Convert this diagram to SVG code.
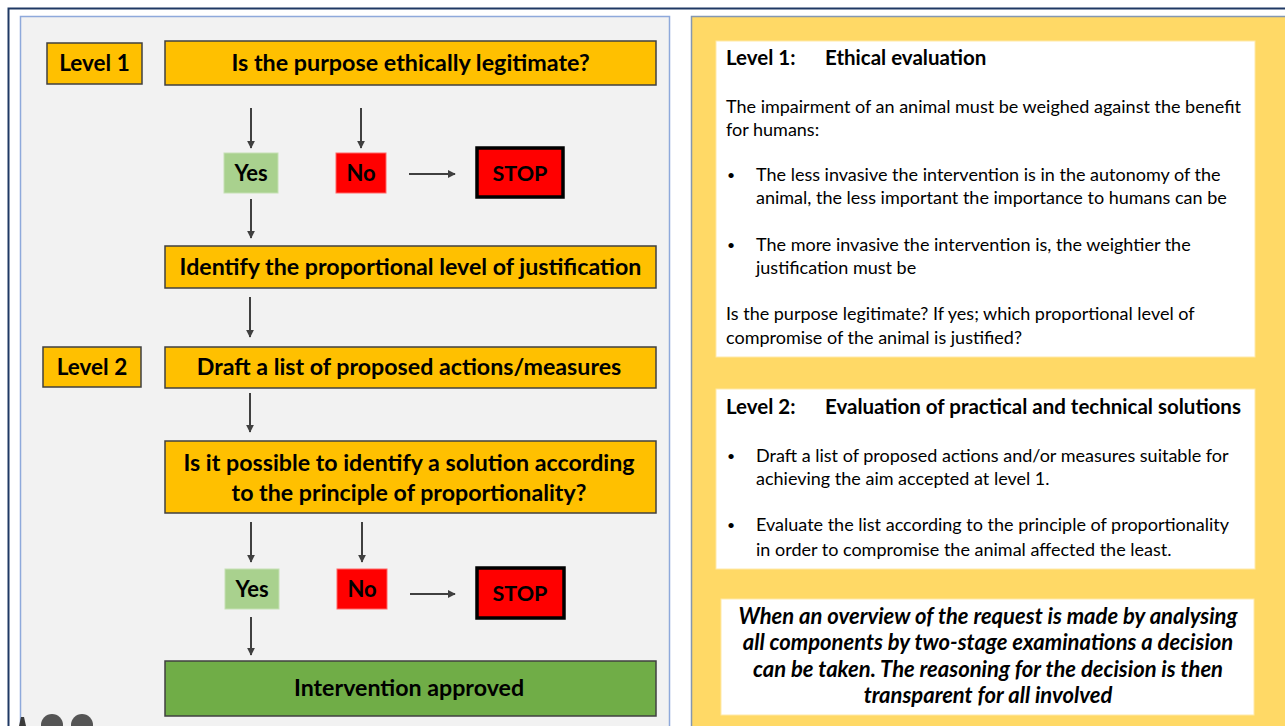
<svg xmlns="http://www.w3.org/2000/svg" width="1285" height="726" viewBox="0 0 1285 726">
  <style>
    .box { fill: #FFC000; stroke: #404040; stroke-width: 1.5; }
    .yes { fill: #A9D18E; stroke: #C5E0B4; stroke-width: 1; }
    .no { fill: #FF0000; stroke: #FF6666; stroke-width: 1; }
    .stop { fill: #FF0000; stroke: #000000; stroke-width: 3.5; }
    .ok { fill: #70AD47; stroke: #404040; stroke-width: 1.5; }
    .card { fill: #FFFFFF; stroke: #FFE9A8; stroke-width: 1; }
    .lbl { font-family: Lato, "Liberation Sans", sans-serif; font-weight: bold; fill: #000; text-anchor: middle; }
    .body { font-family: Lato, "Liberation Sans", sans-serif; font-size: 18px; fill: #000; }
    .dot { font-family: Lato, "Liberation Sans", sans-serif; font-size: 14px; fill: #000; }
    .head { font-family: Lato, "Liberation Sans", sans-serif; font-size: 20.5px; font-weight: bold; fill: #000; }
    .note { font-family: Lato, "Liberation Sans", sans-serif; font-size: 22px; font-weight: bold; font-style: italic; fill: #000; text-anchor: middle; }
    .conn { stroke: #404040; stroke-width: 2; fill: none; marker-end: url(#head); }
  </style>
  <defs>
    <marker id="head" viewBox="0 0 10 10" refX="9" refY="5" markerWidth="4" markerHeight="4" orient="auto" markerUnits="strokeWidth">
      <path d="M0,0 L10,5 L0,10 z" fill="#404040"/>
    </marker>
  </defs>

  <!-- page background and frames -->
  <rect x="0" y="0" width="1285" height="726" fill="#FFFFFF"/>
  <path d="M8.5,726 V8.5 H1285" fill="none" stroke="#1F3864" stroke-width="2"/>
  <rect id="flow-panel" x="20.5" y="16.5" width="649" height="720" fill="#F2F2F2" stroke="#8EA9DB" stroke-width="1.5"/>
  <rect id="info-panel" x="691.5" y="16.5" width="600" height="720" fill="#FFD966" stroke="#8497B0" stroke-width="1.5"/>

  <!-- flowchart nodes -->
  <g id="level1">
    <rect class="box" x="47" y="43" width="95" height="41"/>
    <text class="lbl" x="94.5" y="71" font-size="22.5">Level 1</text>
  </g>
  <g id="q-legitimate">
    <rect class="box" x="165" y="41" width="491" height="44"/>
    <text class="lbl" x="410.5" y="71" font-size="23.3">Is the purpose ethically legitimate?</text>
  </g>
  <g id="yes1">
    <rect class="yes" x="224" y="153" width="54" height="40"/>
    <text class="lbl" x="251" y="181" font-size="22">Yes</text>
  </g>
  <g id="no1">
    <rect class="no" x="336" y="153" width="50" height="40"/>
    <text class="lbl" x="361" y="181" font-size="22">No</text>
  </g>
  <g id="stop1">
    <rect class="stop" x="477" y="148" width="86" height="49"/>
    <text class="lbl" x="520" y="181" font-size="21.5">STOP</text>
  </g>
  <g id="justification">
    <rect class="box" x="165" y="246" width="491" height="42"/>
    <text class="lbl" x="410.5" y="275" font-size="23.2">Identify the proportional level of justification</text>
  </g>
  <g id="level2">
    <rect class="box" x="43" y="347" width="98" height="40"/>
    <text class="lbl" x="92" y="375" font-size="22.5">Level 2</text>
  </g>
  <g id="draft">
    <rect class="box" x="165" y="347" width="491" height="41"/>
    <text class="lbl" x="409" y="375" font-size="23.2">Draft a list of proposed actions/measures</text>
  </g>
  <g id="q-proportional">
    <rect class="box" x="165" y="441" width="491" height="72"/>
    <text class="lbl" x="409" y="471" font-size="23.2">Is it possible to identify a solution according</text>
    <text class="lbl" x="409" y="501" font-size="23.2">to the principle of proportionality?</text>
  </g>
  <g id="yes2">
    <rect class="yes" x="225" y="569" width="54" height="40"/>
    <text class="lbl" x="252" y="597" font-size="22">Yes</text>
  </g>
  <g id="no2">
    <rect class="no" x="337" y="569" width="50" height="40"/>
    <text class="lbl" x="362" y="597" font-size="22">No</text>
  </g>
  <g id="stop2">
    <rect class="stop" x="477" y="568" width="87" height="50"/>
    <text class="lbl" x="520" y="601" font-size="21.5">STOP</text>
  </g>
  <g id="approved">
    <rect class="ok" x="165" y="661" width="491" height="55"/>
    <text class="lbl" x="409" y="696" font-size="23.2">Intervention approved</text>
  </g>

  <!-- connectors -->
  <g id="connectors">
    <line class="conn" x1="251" y1="108" x2="251" y2="148"/>
    <line class="conn" x1="361" y1="108" x2="361" y2="148"/>
    <line class="conn" x1="409" y1="174" x2="455" y2="174"/>
    <line class="conn" x1="251" y1="199" x2="251" y2="238"/>
    <line class="conn" x1="250" y1="297" x2="250" y2="337"/>
    <line class="conn" x1="250" y1="393" x2="250" y2="432"/>
    <line class="conn" x1="251" y1="522" x2="251" y2="562"/>
    <line class="conn" x1="362" y1="522" x2="362" y2="562"/>
    <line class="conn" x1="410" y1="594" x2="455" y2="594"/>
    <line class="conn" x1="251" y1="617" x2="251" y2="655"/>
  </g>

  <!-- explanation cards -->
  <g id="card-level1">
    <rect class="card" x="716" y="41" width="539" height="316"/>
    <text class="head" x="726" y="65">Level 1:</text>
    <text class="head" x="825" y="65">Ethical evaluation</text>
    <text class="body" x="726" y="113">The impairment of an animal must be weighed against the benefit</text>
    <text class="body" x="726" y="136">for humans:</text>
    <text class="dot" x="727" y="180">•</text>
    <text class="body" x="756" y="181">The less invasive the intervention is in the autonomy of the</text>
    <text class="body" x="756" y="204">animal, the less important the importance to humans can be</text>
    <text class="dot" x="727" y="250">•</text>
    <text class="body" x="756" y="251">The more invasive the intervention is, the weightier the</text>
    <text class="body" x="756" y="274">justification must be</text>
    <text class="body" x="726" y="320">Is the purpose legitimate? If yes; which proportional level of</text>
    <text class="body" x="726" y="344">compromise of the animal is justified?</text>
  </g>
  <g id="card-level2">
    <rect class="card" x="716" y="389" width="539" height="180"/>
    <text class="head" x="726" y="414">Level 2:</text>
    <text class="head" x="825" y="414">Evaluation of practical and technical solutions</text>
    <text class="dot" x="727" y="461">•</text>
    <text class="body" x="756" y="462">Draft a list of proposed actions and/or measures suitable for</text>
    <text class="body" x="756" y="485">achieving the aim accepted at level 1.</text>
    <text class="dot" x="727" y="530">•</text>
    <text class="body" x="756" y="531">Evaluate the list according to the principle of proportionality</text>
    <text class="body" x="756" y="556">in order to compromise the animal affected the least.</text>
  </g>
  <g id="card-summary">
    <rect class="card" x="721" y="599" width="533" height="116"/>
    <text class="note" x="988" y="624">When an overview of the request is made by analysing</text>
    <text class="note" x="988" y="650">all components by two-stage examinations a decision</text>
    <text class="note" x="988" y="677">can be taken. The reasoning for the decision is then</text>
    <text class="note" x="988" y="703">transparent for all involved</text>
  </g>

  <!-- viewer toolbar buttons along the lower edge -->
  <g id="toolbar">
    <path d="M19,726 L21,717 L24,717 L26,726 z" fill="#3A3A3A"/>
    <circle cx="52" cy="725" r="11" fill="#555555"/>
    <circle cx="82" cy="725" r="11" fill="#555555"/>
  </g>
</svg>
